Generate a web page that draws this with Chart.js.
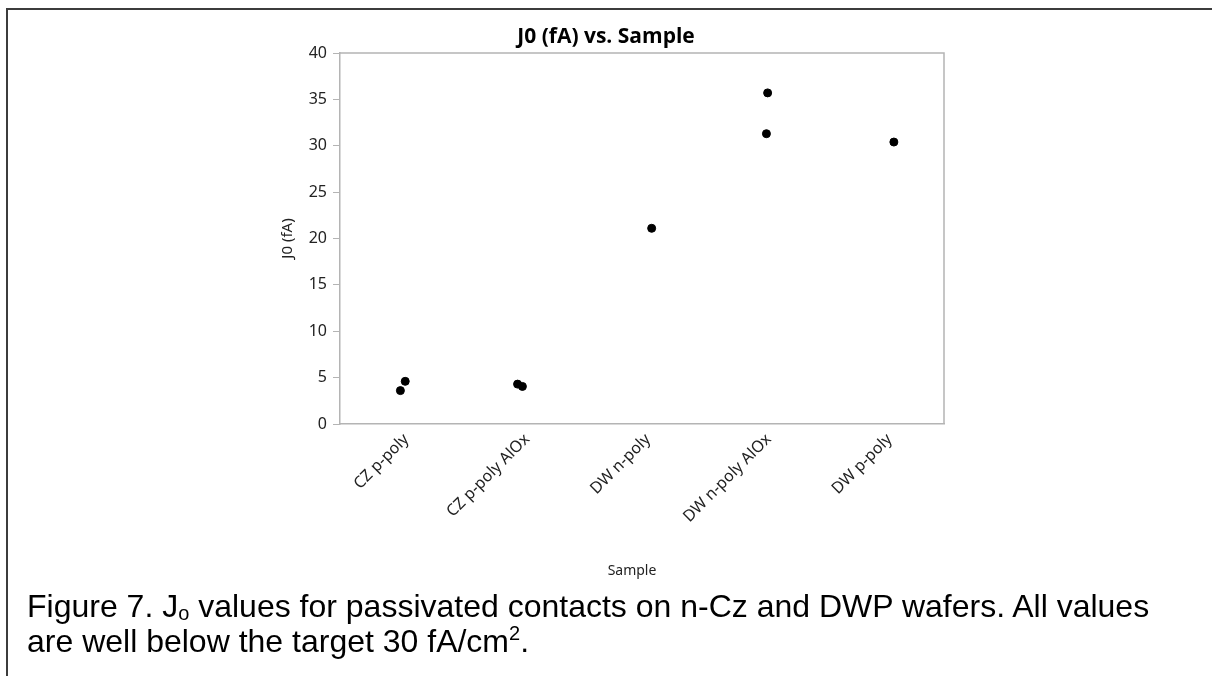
<!DOCTYPE html>
<html>
<head>
<meta charset="utf-8">
<script src="https://cdn.jsdelivr.net/npm/chart.js@4"></script>
<style>
  html, body { margin:0; padding:0; background:#fff; }
  #wrap { position:relative; width:1212px; height:676px; overflow:hidden; }
  #frame { position:absolute; left:6px; top:8px; width:1210px; height:680px; border-left:2px solid #3c3c3c; border-top:2px solid #3c3c3c; }
  canvas { position:absolute; left:0; top:0; }
  #caption { position:absolute; left:27px; top:589px; width:1180px; font-family:"Liberation Sans", Arial, sans-serif; font-size:32px; line-height:35px; color:#000; white-space:nowrap; }
  #caption sub { font-size:20px; vertical-align:-3px; line-height:0; }
  #caption sup { font-size:20px; vertical-align:12px; line-height:0; }
</style>
</head>
<body>
<div id="wrap">
  <div id="frame"></div>
  <canvas id="c" width="1212" height="676"></canvas>
  <div id="caption">Figure 7. J<sub>o</sub> values for passivated contacts on n-Cz and DWP wafers. All values<br>are well below the target 30 fA/cm<sup>2</sup>.</div>
</div>
<script>
const categories = ["CZ p-poly", "CZ p-poly AlOx", "DW n-poly", "DW n-poly AlOx", "DW p-poly"];
const pointCategory = [0, 0, 1, 1, 2, 3, 3, 4];
const pointJitter   = [0.00, 0.04, -0.03, 0.01, 0.08, 0.04, 0.03, 0.085];
const j0Values      = [3.6, 4.6, 4.3, 4.05, 21.1, 35.7, 31.3, 30.4];
const yTicks = [0, 5, 10, 15, 20, 25, 30, 35, 40];

const chartTitle = "J0 (fA) vs. Sample";
const xTitle = "Sample";
const yTitle = "J0 (fA)";

const points = j0Values.map((v, i) => ({ x: pointCategory[i] + pointJitter[i], y: v }));

const tickFont = { family: "'Noto Sans', 'Open Sans', sans-serif", size: 16 };
const axisGray = "#b4b4b4";

const decor = {
  id: "decor",
  afterDraw(chart) {
    const { ctx, chartArea: a } = chart;
    ctx.save();
    ctx.strokeStyle = axisGray;
    ctx.lineWidth = 1.5;
    ctx.beginPath();
    ctx.moveTo(a.left, a.top); ctx.lineTo(a.right, a.top); ctx.lineTo(a.right, a.bottom);
    ctx.stroke();
    ctx.fillStyle = "#000";
    ctx.textAlign = "center";
    ctx.textBaseline = "middle";
    ctx.font = "bold 21px 'Open Sans', 'Noto Sans', sans-serif";
    ctx.fillText(chartTitle, (268 + a.right) / 2, 37);
    ctx.font = "14px 'Noto Sans', 'Open Sans', sans-serif";
    ctx.fillStyle = "#222";
    ctx.fillText(xTitle, (a.left + a.right) / 2 - 10, 571);
    ctx.translate(288, (a.top + a.bottom) / 2);
    ctx.rotate(-Math.PI / 2);
    ctx.font = "15px 'Noto Sans', 'Open Sans', sans-serif";
    ctx.fillText(yTitle, 0, 0);
    ctx.restore();
  }
};

new Chart(document.getElementById("c"), {
  type: "scatter",
  data: {
    datasets: [{
      data: points,
      backgroundColor: "#000",
      borderColor: "#000",
      pointRadius: 4,
      pointHoverRadius: 4
    }]
  },
  options: {
    responsive: false,
    animation: false,
    events: [],
    layout: { padding: { left: 0, top: 53, right: 268, bottom: 0 } },
    plugins: { legend: { display: false }, tooltip: { enabled: false }, title: { display: false } },
    scales: {
      x: {
        type: "linear",
        min: -0.5, max: 4.5,
        afterBuildTicks(scale) { scale.ticks = categories.map((_, i) => ({ value: i })); },
        afterFit(scale) { scale.height = 252; },
        ticks: {
          autoSkip: false,
          maxRotation: 45, minRotation: 45,
          font: tickFont, color: "#222",
          padding: 6,
          labelOffset: 6,
          callback: (v) => categories[v]
        },
        grid: { display: false, drawTicks: false },
        border: { color: axisGray, width: 1.5 }
      },
      y: {
        min: 0, max: 40,
        afterBuildTicks(scale) { scale.ticks = yTicks.map(v => ({ value: v })); },
        afterFit(scale) { scale.width = 340; },
        ticks: { font: tickFont, color: "#222", padding: 6 },
        grid: { drawOnChartArea: false, drawTicks: true, tickLength: 7, color: axisGray },
        border: { color: axisGray, width: 1.5 }
      }
    }
  },
  plugins: [decor]
});
</script>
</body>
</html>
